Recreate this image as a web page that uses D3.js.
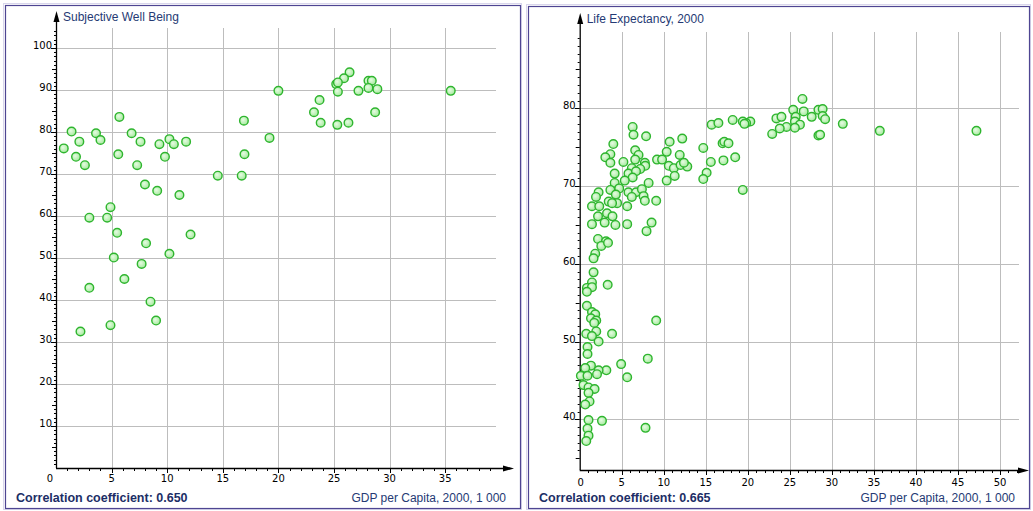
<!DOCTYPE html>
<html>
<head>
<meta charset="utf-8">
<script src="https://cdn.jsdelivr.net/npm/d3@7"></script>
<style>
  html, body { margin: 0; padding: 0; background: #fff; }
  svg { display: block; font-family: "Liberation Sans", Arial, sans-serif; }
  .tick-lbl { font-family: "DejaVu Sans", Verdana, sans-serif; font-size: 10px; fill: #000; }
</style>
</head>
<body>
<svg id="chart" width="1033" height="511"></svg>
<script>
// Subjective well being vs GDP per capita (thousands)
const swbPoints= [
  [5.7, 83.6], [1.4, 80.1], [3.6, 79.7], [6.8, 79.7], [2.1, 77.7], [4.0, 78.1],
  [7.6, 77.7], [10.2, 78.3], [9.3, 77.1], [10.6, 77.1], [11.7, 77.7], [16.9, 82.7],
  [0.7, 76.1], [1.8, 74.1], [5.6, 74.7], [9.8, 74.1], [16.95, 74.7], [2.6, 72.1],
  [7.3, 72.1], [14.55, 69.6], [16.7, 69.6], [8.0, 67.5], [9.1, 66.0], [11.1, 65.0],
  [4.9, 62.1], [3.0, 59.6], [4.6, 59.6], [5.5, 56.0], [12.1, 55.6], [8.1, 53.5],
  [10.2, 51.0], [5.2, 50.1], [7.7, 48.6], [6.15, 45.0], [3.0, 42.9], [8.5, 39.6],
  [9.0, 35.1], [4.9, 34.0], [2.2, 32.5],
  [20.0, 89.8], [35.5, 89.8], [26.4, 94.2], [25.9, 92.8], [25.2, 91.4], [25.35, 91.8],
  [25.35, 89.6], [28.1, 92.2], [28.4, 92.2], [28.1, 90.5], [28.9, 90.2], [27.2, 89.8],
  [23.7, 87.6], [23.2, 84.7], [28.7, 84.7], [23.8, 82.2], [25.3, 81.7], [26.3, 82.2],
  [19.2, 78.6],
];

// Life expectancy vs GDP per capita (thousands)
const lifePoints= [
  [26.5, 81.2], [25.4, 79.8], [26.65, 79.6], [28.4, 79.8], [28.9, 79.9], [27.6, 78.9],
  [28.9, 79.0], [29.2, 78.6], [23.4, 78.7], [24.0, 78.9], [25.7, 78.9], [25.6, 78.3],
  [26.2, 77.9], [24.6, 77.6], [23.8, 77.4], [25.6, 77.5], [22.9, 76.7], [28.4, 76.5],
  [28.6, 76.6], [31.3, 78.0], [35.7, 77.1], [47.2, 77.1], [20.3, 78.3], [19.8, 78.1],
  [15.7, 77.9], [16.5, 78.1], [18.2, 78.5], [19.4, 78.3], [19.6, 78.0],
  [14.7, 74.9], [17.0, 75.5], [17.2, 75.7], [17.7, 75.5], [15.6, 73.1], [17.1, 73.3],
  [18.5, 73.7], [15.1, 71.7], [14.7, 70.9], [19.4, 69.5],
  [12.2, 76.1], [10.7, 75.7], [10.35, 74.4], [11.9, 74.0], [9.2, 73.4], [9.8, 73.4],
  [10.6, 72.6], [11.2, 72.3], [12.0, 72.7], [12.8, 72.5], [12.4, 73.0], [11.3, 71.3],
  [10.35, 70.7], [8.2, 70.4], [9.1, 68.1], [8.55, 65.3], [7.95, 64.2],
  [6.3, 77.6], [6.4, 76.6], [7.9, 76.4], [4.0, 75.4], [6.6, 74.6], [3.65, 74.1],
  [3.05, 73.7], [7.0, 74.0], [5.2, 73.1], [3.65, 73.0], [7.75, 73.0], [6.6, 73.4],
  [7.8, 72.6], [7.2, 72.2], [6.2, 72.3], [4.16, 71.6], [5.8, 71.6], [6.7, 71.9],
  [6.3, 71.1], [5.36, 70.7], [4.16, 70.4], [2.25, 69.2], [3.65, 69.5], [4.7, 69.7],
  [5.8, 69.2], [6.7, 69.2], [7.4, 69.6], [1.94, 68.6], [4.3, 68.9], [6.2, 68.6],
  [7.6, 68.7], [3.45, 68.0], [4.45, 67.8], [7.75, 68.1], [1.46, 67.4], [2.33, 67.4],
  [3.85, 67.8], [5.65, 67.4], [3.25, 66.5], [2.18, 66.1], [3.9, 66.1], [2.97, 65.3],
  [1.46, 65.1], [4.25, 65.0], [5.65, 65.1], [2.18, 63.2], [3.13, 62.9], [2.57, 62.3],
  [3.37, 62.7], [1.85, 61.3], [1.65, 60.7], [1.65, 58.9], [1.46, 57.6], [3.33, 57.3],
  [0.86, 56.9], [1.46, 57.0], [0.86, 56.4], [0.86, 54.6], [1.46, 53.8], [1.85, 53.5],
  [1.34, 53.0], [1.97, 52.7], [1.73, 52.4], [9.1, 52.7], [0.78, 51.0], [1.97, 51.3],
  [3.85, 51.0], [1.46, 50.7], [2.25, 50.0], [0.93, 49.3], [0.93, 48.4], [8.1, 47.8],
  [4.93, 47.1], [1.34, 46.9], [0.66, 46.6], [3.17, 46.3], [2.25, 46.3], [2.06, 45.8],
  [0.14, 45.6], [0.93, 45.6], [5.65, 45.4], [0.45, 44.4], [1.05, 44.1], [1.77, 43.9],
  [1.05, 43.4], [1.17, 42.3], [0.66, 41.9], [1.05, 39.9], [2.65, 39.8], [7.83, 38.9],
  [0.93, 38.8], [1.05, 37.9], [0.78, 37.2],
];

const swbYTicks= [10, 20, 30, 40, 50, 60, 70, 80, 90, 100];
const swbXTicks= [5, 10, 15, 20, 25, 30, 35];
const lifeYTicks= [40, 50, 60, 70, 80];
const lifeXTicks= [5, 10, 15, 20, 25, 30, 35, 40, 45, 50];

const panels= [
  {
    box: [5, 5, 515, 503],
    points: swbPoints,
    xTicks: swbXTicks, yTicks: swbYTicks,
    x: d3.scaleLinear().domain([0, 40]).range([56, 500.8]),
    y: d3.scaleLinear().domain([0, 100]).range([468, 48]),
    axisY: 468, lblOff: 13.5,
    xMinor: [0, 39], yMinor: [0, 104],
    gridRight: 496, gridTop: 28, arrowX: 514, arrowY: 11,
    zeroLabel: true,
    yTitle: 'Subjective Well Being',
    corr: 'Correlation coefficient: 0.650',
    xTitle: 'GDP per Capita, 2000, 1 000',
  },
  {
    box: [528, 6, 501, 502],
    points: lifePoints,
    xTicks: lifeXTicks, yTicks: lifeYTicks,
    x: d3.scaleLinear().domain([0, 50]).range([579.7, 1000]),
    y: d3.scaleLinear().domain([40, 80]).range([419.3, 108.3]),
    axisY: 470, lblOff: 15.5,
    xMinor: [0, 52], yMinor: [34, 89],
    gridRight: 1019, gridTop: 32, arrowX: 1029, arrowY: 13,
    zeroLabel: false,
    yTitle: 'Life Expectancy, 2000',
    corr: 'Correlation coefficient: 0.665',
    xTitle: 'GDP per Capita, 2000, 1 000',
  },
];

const svg= d3.select('#chart');

const defs= svg.append('defs');
const grad= defs.append('radialGradient').attr('id', 'dotFill')
  .attr('cx', '40%').attr('cy', '40%').attr('r', '60%');
grad.append('stop').attr('offset', '0%').attr('stop-color', '#e6fce2');
grad.append('stop').attr('offset', '100%').attr('stop-color', '#a8eaa0');

panels.forEach(drawPanel);

function drawPanel(p) {
  const g= svg.append('g');
  const [bx, by, bw, bh]= p.box;
  const x0= p.x.range()[0];
  const axisY= p.axisY;

  g.append('rect')
    .attr('x', bx - 1.5).attr('y', by - 1.5)
    .attr('width', bw + 3).attr('height', bh + 3)
    .attr('fill', 'none')
    .attr('stroke', '#d9d6ec').attr('stroke-width', 1);

  g.append('rect')
    .attr('x', bx + 0.5).attr('y', by + 0.5)
    .attr('width', bw).attr('height', bh)
    .attr('fill', '#fff')
    .attr('stroke', '#4e4592').attr('stroke-width', 1.2);

  // grid
  g.append('g').selectAll('line')
    .data(p.yTicks)
    .join('line')
    .attr('x1', x0).attr('x2', p.gridRight)
    .attr('y1', d => Math.round(p.y(d)) + 0.5).attr('y2', d => Math.round(p.y(d)) + 0.5)
    .attr('stroke', '#bdbdbd').attr('stroke-width', 1);

  g.append('g').selectAll('line')
    .data(p.xTicks)
    .join('line')
    .attr('x1', d => Math.round(p.x(d)) + 0.5).attr('x2', d => Math.round(p.x(d)) + 0.5)
    .attr('y1', p.gridTop).attr('y2', axisY)
    .attr('stroke', '#bdbdbd').attr('stroke-width', 1);

  // axes lines + arrows
  const axG= g.append('g').attr('stroke', '#000');
  axG.append('line')
    .attr('x1', x0).attr('x2', p.arrowX - 6)
    .attr('y1', axisY + 0.5).attr('y2', axisY + 0.5)
    .attr('stroke-width', 1.3);
  axG.append('line')
    .attr('x1', x0 + 0.5).attr('x2', x0 + 0.5)
    .attr('y1', axisY).attr('y2', p.arrowY + 6)
    .attr('stroke-width', 1.3);

  g.append('path')
    .attr('d', `M${p.arrowX},${axisY + 0.5}L${p.arrowX - 11},${axisY - 2.5}L${p.arrowX - 11},${axisY + 3.5}Z`)
    .attr('fill', '#000');
  g.append('path')
    .attr('d', `M${x0 + 0.5},${p.arrowY}L${x0 - 2.5},${p.arrowY + 11}L${x0 + 3.5},${p.arrowY + 11}Z`)
    .attr('fill', '#000');

  // minor ticks
  const xm= d3.range(p.xMinor[0] + 1, p.xMinor[1] + 1);
  axG.selectAll('line.xm')
    .data(xm)
    .join('line')
    .attr('class', 'xm')
    .attr('x1', d => Math.round(p.x(d)) + 0.5).attr('x2', d => Math.round(p.x(d)) + 0.5)
    .attr('y1', axisY).attr('y2', d => axisY + (d % 5 === 0 ? 5 : 3))
    .attr('stroke-width', 1);

  const ym= d3.range(p.yMinor[0] + 1, p.yMinor[1] + 1);
  axG.selectAll('line.ym')
    .data(ym)
    .join('line')
    .attr('class', 'ym')
    .attr('x1', d => x0 - (d % 10 === 0 ? 5 : d % 5 === 0 ? 4 : 2)).attr('x2', x0)
    .attr('y1', d => Math.round(p.y(d)) + 0.5).attr('y2', d => Math.round(p.y(d)) + 0.5)
    .attr('stroke-width', 1);

  // tick labels
  g.append('g').selectAll('text')
    .data(p.yTicks)
    .join('text')
    .attr('class', 'tick-lbl')
    .attr('x', x0 - 4).attr('y', d => p.y(d) + 1)
    .attr('text-anchor', 'end')
    .text(d => d);

  g.append('g').selectAll('text')
    .data(p.xTicks)
    .join('text')
    .attr('class', 'tick-lbl')
    .attr('x', d => p.x(d)).attr('y', axisY + p.lblOff)
    .attr('text-anchor', 'middle')
    .text(d => d);

  g.append('text')
    .attr('class', 'tick-lbl')
    .attr('x', p.zeroLabel ? x0 - 6 : x0 + 1).attr('y', axisY + p.lblOff)
    .attr('text-anchor', 'middle')
    .text('0');

  // titles
  g.append('text')
    .attr('x', x0 + 7).attr('y', p.arrowY + 10)
    .attr('font-size', 12).attr('fill', '#253a74')
    .text(p.yTitle);

  g.append('text')
    .attr('x', bx + 11).attr('y', 502)
    .attr('font-size', 12.5).attr('font-weight', 700).attr('fill', '#1c2e66')
    .text(p.corr);

  g.append('text')
    .attr('x', bx + bw - 14).attr('y', 502)
    .attr('text-anchor', 'end')
    .attr('font-size', 12).attr('fill', '#253a74')
    .text(p.xTitle);

  // points
  g.append('g').selectAll('circle')
    .data(p.points)
    .join('circle')
    .attr('cx', d => p.x(d[0]))
    .attr('cy', d => p.y(d[1]))
    .attr('r', 4.3)
    .attr('fill', 'url(#dotFill)')
    .attr('stroke', '#2eb52e')
    .attr('stroke-width', 1.4);
}
</script>
</body>
</html>
